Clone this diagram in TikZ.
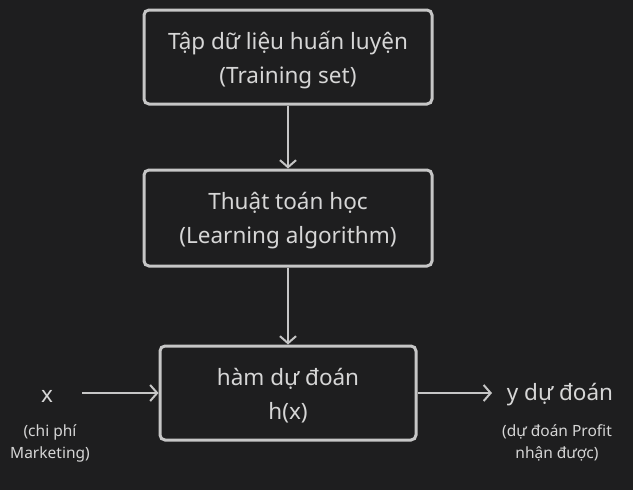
\documentclass[tikz,border=0pt]{standalone}
\usepackage{fontspec}
\setmainfont{Noto Sans}
\usetikzlibrary{arrows.meta}
\definecolor{bg}{HTML}{1E1E1F}
\definecolor{fg}{HTML}{D6D6D6}
\definecolor{ln}{HTML}{C6C6C6}
\tikzset{
  box/.style={draw=ln, line width=3pt, rounded corners=5pt, fill=bg, inner sep=0pt},
  boxtext/.style={text=fg, align=center, inner sep=0pt, font=\fontsize{22.5}{34}\selectfont, yshift=-3pt},
  conn/.style={draw=ln, line width=2pt, -{Straight Barb[length=7pt,width=16pt,line width=2pt]}},
  lbl/.style={text=fg, align=center, inner sep=0pt},
}
\begin{document}
\begin{tikzpicture}[x=1pt,y=-1pt]
\fill[bg] (0,0) rectangle (633,490);
\useasboundingbox (0,0) rectangle (633,490);
\node[box, minimum width=288pt, minimum height=94pt] (train) at (288,57) {};
\node[boxtext] (trainT) at (train.center) {Tập dữ liệu huấn luyện\\(Training set)};
\node[box, minimum width=288pt, minimum height=96pt] (algo) at (288,218) {};
\node[boxtext] (algoT) at (algo.center) {Thuật toán học\\(Learning algorithm)};
\node[box, minimum width=256pt, minimum height=94pt] (hyp) at (288,393) {};
\node[boxtext] (hypT) at (hyp.center) {hàm dự đoán\\h(x)};
\node[lbl, font=\fontsize{22.5}{26}\selectfont] (x) at (47,396) {x};
\node[lbl, font=\fontsize{15.5}{22}\selectfont] (xn) at (50,443) {(chi phí\\Marketing)};
\node[lbl, font=\fontsize{22.5}{26}\selectfont] (y) at (560,395) {y dự đoán};
\node[lbl, font=\fontsize{15.5}{22}\selectfont] (yn) at (557,443) {(dự đoán Profit\\nhận được)};
\coordinate (xs) at (82,393);
\coordinate (ye) at (492,393);
\draw[conn] (train) -- (algo);
\draw[conn] (algo) -- (hyp);
\draw[conn] (xs) -- (hyp);
\draw[conn] (hyp) -- (ye);
\end{tikzpicture}
\end{document}
